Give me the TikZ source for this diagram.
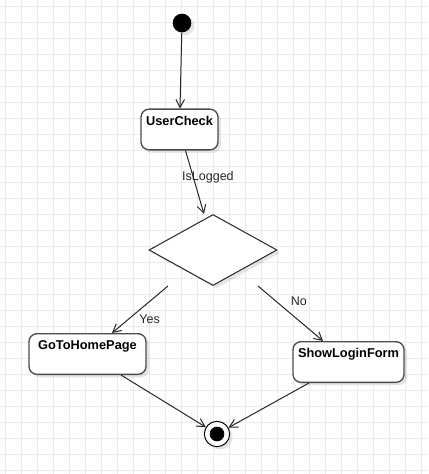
\documentclass[tikz,border=0pt]{standalone}
\usepackage{fontspec}
\setmainfont{Liberation Sans}
\usetikzlibrary{arrows.meta,shapes.geometric,shadows}
\begin{document}
\begin{tikzpicture}[x=0.75pt,y=-0.75pt,
        gridline/.style={draw=black!8,line width=0.75pt},
        shade/.style={drop shadow={shadow xshift=2.25pt,shadow yshift=-2.25pt,opacity=0.1,fill=black}},
        state/.style={draw=black!70,line width=1pt,rounded corners=6pt,fill=white,shade,minimum height=30.5pt,inner sep=0pt},
        statename/.style={anchor=north,yshift=-5.5pt,inner sep=0pt,font=\fontsize{9.6}{11}\selectfont\bfseries},
        start/.style={circle,fill=black,minimum size=14pt,inner sep=0pt,shade},
        final/.style={circle,draw=black,fill=white,line width=0.75pt,minimum size=19pt,inner sep=0pt,shade,
                path picture={\fill[black] (path picture bounding box.center) circle (5.5pt);}},
        choice/.style={diamond,draw=black!85,line width=0.75pt,fill=white,minimum width=96pt,minimum height=53.25pt,inner sep=0pt,shade},
        flow/.style={draw=black!85,line width=0.75pt,-{Straight Barb[length=6pt,width=6.5pt]}},
        tag/.style={text=black!85,inner sep=0pt,font=\fontsize{9.4}{11}\selectfont}]
        \useasboundingbox (0,0) rectangle (428,474);
        \foreach \gx in {5.3,21.3,...,421.3}
                \draw[gridline] (\gx,0) -- (\gx,474);
        \foreach \gy in {6.7,22.7,...,470.7}
                \draw[gridline] (0,\gy) -- (428,\gy);
        \node[start] (init) at (182,23) {};
        \node[state,minimum width=57.75pt,label={[statename]north:UserCheck}] (check) at (179.5,129.5) {};
        \node[choice] (decide) at (213,250) {};
        \node[state,minimum width=87.75pt,label={[statename]north:GoToHomePage}] (home) at (87.5,354) {};
        \node[state,minimum width=83.25pt,label={[statename]north:ShowLoginForm}] (login) at (348.5,362) {};
        \node[final] (done) at (217,434) {};
        \draw[flow] (init) -- (check);
        \draw[flow] ([xshift=4.5pt]check.south) -- node[tag,pos=0.42,xshift=11pt] {IsLogged} ([xshift=-6.75pt]decide.north);
        \draw[flow] ([xshift=-33.75pt]decide.south) -- node[tag,pos=0.71,xshift=16pt] {Yes} ([xshift=18.4pt]home.north);
        \draw[flow] ([xshift=33.75pt]decide.south) -- node[tag,pos=0.27,xshift=17.5pt] {No} ([xshift=-19.1pt]login.north);
        \draw[flow] ([xshift=25.1pt]home.south) -- (done);
        \draw[flow] ([xshift=-29.6pt]login.south) -- (done);
\end{tikzpicture}
\end{document}
